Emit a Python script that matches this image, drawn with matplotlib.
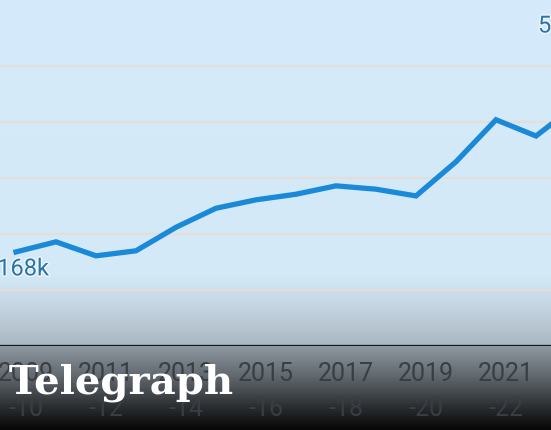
import numpy as np
import matplotlib.pyplot as plt
import matplotlib.patheffects as pe
from matplotlib.colors import LinearSegmentedColormap

# data (thousands), financial years 2009-10 onwards
years = np.arange(2009, 2024)
values = [168, 186, 161, 170, 212, 246, 261, 271, 286, 280, 268, 329, 404, 375, 430]
tick_years = [2009, 2011, 2013, 2015, 2017, 2019, 2021, 2023]
tick_labels = ["%d\n-%02d" % (y, (y + 1) % 100) for y in tick_years]
start_label = "168k"
end_label = "531k"

W, H = 551, 431
fig = plt.figure(figsize=(W / 100, H / 100), dpi=100)

# background: light blue fading to dark at the bottom
bg = fig.add_axes([0, 0, 1, 1], zorder=0)
stops = [(0.0, "#d5ebfb"), (0.64, "#d4e9f7"), (0.72, "#c3d4e0"),
         (0.80, "#abb9c4"), (0.806, "#8f99a1"), (0.88, "#5f666c"),
         (0.95, "#2a2d30"), (1.0, "#080808")]
cmap = LinearSegmentedColormap.from_list("bg", stops)
grad = np.linspace(0, 1, 431).reshape(-1, 1)
bg.imshow(grad, aspect="auto", cmap=cmap, extent=[0, 1, 0, 1])
bg.axis("off")

# chart axes: baseline 84px from the bottom, 40px per year
base = 84
ax = fig.add_axes([0, base / H, 1, (H - base) / H], zorder=1)
ax.patch.set_alpha(0)

for v in [100, 200, 300, 400, 500]:
    ax.axhline(v, color="#e6ddd6", lw=1.6, alpha=0.9, zorder=1)
ax.axhline(0, color="#15191d", lw=2.2, zorder=2)

ax.plot(years, values, color="#1a8ad8", lw=3.8, solid_joinstyle="miter", zorder=3)

halo = [pe.withStroke(linewidth=2, foreground="#eef6fc")]
ax.annotate(start_label, (years[0], values[0]), xytext=(7, -17),
            textcoords="offset pixels", ha="center", va="center",
            fontsize=17, color="#2a74aa", family="Roboto", zorder=4,
            path_effects=halo)
fig.text(538 / W, 1 - 27 / H, end_label, ha="left", va="center",
         fontsize=17, color="#2a74aa", family="Roboto", path_effects=halo)

ax.set_xticks(np.array(tick_years) + 0.25)
ax.set_xticklabels(tick_labels, fontsize=18, color="#383e43",
                   family="Roboto", linespacing=1.55)
ax.tick_params(axis="x", length=0, pad=11)
ax.set_yticks([])
for s in ax.spines.values():
    s.set_visible(False)

px_per_year = 40
x0 = 2009 - 16 / px_per_year
ax.set_xlim(x0, x0 + W / px_per_year)
ax.set_ylim(0, (H - base) / 0.56)

# watermark
fig.text(233 / W, 1 - 383 / H, "The Telegraph", ha="right", va="center",
         fontsize=29, fontweight="bold", color="white", family="DejaVu Serif", zorder=5)

fig.savefig("out.png", dpi=100)
